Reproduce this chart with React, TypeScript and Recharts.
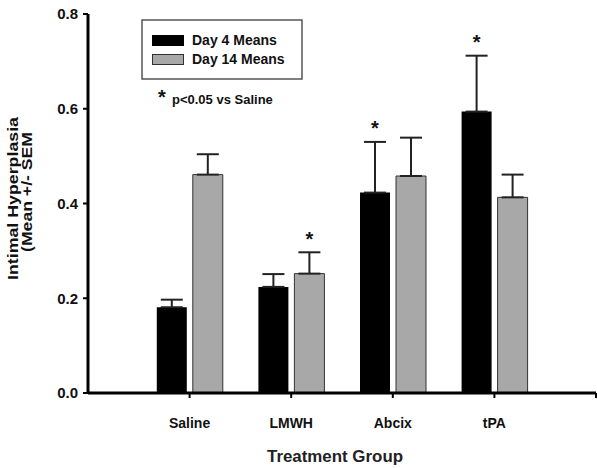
import React from "react";
import { BarChart, Bar, XAxis, YAxis, ErrorBar, LabelList, Legend } from "recharts";

// Intimal hyperplasia by treatment group, day 4 vs day 14 (mean, upward SEM only)
const categories = ["Saline", "LMWH", "Abcix", "tPA"];
const day4 = [0.181, 0.224, 0.423, 0.594];
const sem4 = [0.016, 0.027, 0.107, 0.118];
const day14 = [0.461, 0.252, 0.458, 0.413];
const sem14 = [0.043, 0.045, 0.081, 0.048];
// p<0.05 vs Saline
const sig4 = [false, false, true, true];
const sig14 = [false, true, false, false];
const yTicks = [0, 0.2, 0.4, 0.6, 0.8];

const rows = categories.map((name, i) => ({
  pos: i + 1,
  name,
  day4: day4[i],
  day14: day14[i],
  err4: [0, sem4[i]],
  err14: [0, sem14[i]],
  // star sits above the error cap: sem as a fraction of the bar height
  star4: sig4[i] ? sem4[i] / day4[i] : null,
  star14: sig14[i] ? sem14[i] / day14[i] : null,
}));

const font = "'Liberation Sans', Arial, sans-serif";
const GRAY = "#a8a8a8";

const Star = (p: any) => {
  const v = p.value;
  if (v == null || v === "") return null;
  const vb = p.viewBox ?? p;
  const cx = vb.x + vb.width / 2;
  const top = vb.y - Number(v) * vb.height;
  return (
    <text x={cx} y={top - 6.5} textAnchor="middle" fontSize={20} fontWeight="bold" fontFamily={font} fill="#111">
      *
    </text>
  );
};

const LegendBox = () => (
  <svg width={170} height={100} style={{ overflow: "visible" }}>
    <rect x={2} y={5} width={160} height={59} fill="#fff" stroke="#555" strokeWidth={1.5} />
    <rect x={12} y={20} width={32} height={11} fill="#000" />
    <rect x={12.5} y={39.5} width={31} height={10} fill={GRAY} stroke="#333" strokeWidth={1} />
    <g fontFamily={font} fontWeight="bold" fill="#111">
      <text x={52} y={30} fontSize={14}>Day 4 Means</text>
      <text x={52} y={48.5} fontSize={14}>Day 14 Means</text>
      <text x={18} y={89} fontSize={20}>*</text>
      <text x={32} y={89} fontSize={13}>p&lt;0.05 vs Saline</text>
    </g>
  </svg>
);

const YLabel = () => (
  <g fontFamily={font} fontWeight="bold" fill="#111" fontSize={15}>
    <text transform="translate(18,198.5) rotate(-90)" textAnchor="middle" textLength={163} lengthAdjust="spacingAndGlyphs">
      Intimal Hyperplasia
    </text>
    <text transform="translate(32,192) rotate(-90)" textAnchor="middle" textLength={120} lengthAdjust="spacingAndGlyphs">
      (Mean +/- SEM
    </text>
  </g>
);

const XLabel = () => (
  <text x={335} y={462} textAnchor="middle" fontFamily={font} fontWeight="bold" fontSize={16} fill="#222" textLength={136} lengthAdjust="spacingAndGlyphs">
    Treatment Group
  </text>
);

export default function App() {
  return (
    <div style={{ position: "absolute", left: 0, top: 0, background: "#fff" }}>
      <BarChart width={597} height={468} data={rows} margin={{ top: 14, right: 1, bottom: 0, left: 0 }} barSize={30} barGap={6}>
        <XAxis
          type="number"
          dataKey="pos"
          domain={[0, 5]}
          ticks={[1, 2, 3, 4, 5]}
          tickFormatter={(v: number) => categories[v - 1] ?? ""}
          height={75}
          tickSize={5}
          tickMargin={20}
          axisLine={{ stroke: "#000", strokeWidth: 3 }}
          tickLine={{ stroke: "#000", strokeWidth: 2 }}
          tick={{ fill: "#111", fontSize: 14, fontWeight: "bold", fontFamily: font }}
          label={<XLabel />}
        />
        <YAxis
          domain={[0, 0.8]}
          ticks={yTicks}
          width={88}
          tickSize={5}
          tickMargin={5}
          tickFormatter={(v: number) => v.toFixed(1)}
          axisLine={{ stroke: "#000", strokeWidth: 3 }}
          tickLine={{ stroke: "#000", strokeWidth: 2 }}
          tick={{ fill: "#111", fontSize: 15, fontWeight: "bold", fontFamily: font }}
          label={<YLabel />}
        />
        <Legend
          layout="vertical"
          verticalAlign="middle"
          align="center"
          content={() => <LegendBox />}
          wrapperStyle={{ left: 140, top: 15, width: 170, height: 100 }}
        />
        <Bar dataKey="day4" name="Day 4 Means" fill="#000" isAnimationActive={false}>
          <ErrorBar dataKey="err4" direction="y" width={11} stroke="#222" strokeWidth={2} />
          <LabelList dataKey="star4" content={Star} />
        </Bar>
        <Bar dataKey="day14" name="Day 14 Means" fill={GRAY} stroke="#333" strokeWidth={1} isAnimationActive={false}>
          <ErrorBar dataKey="err14" direction="y" width={11} stroke="#222" strokeWidth={2} />
          <LabelList dataKey="star14" content={Star} />
        </Bar>
      </BarChart>
    </div>
  );
}
